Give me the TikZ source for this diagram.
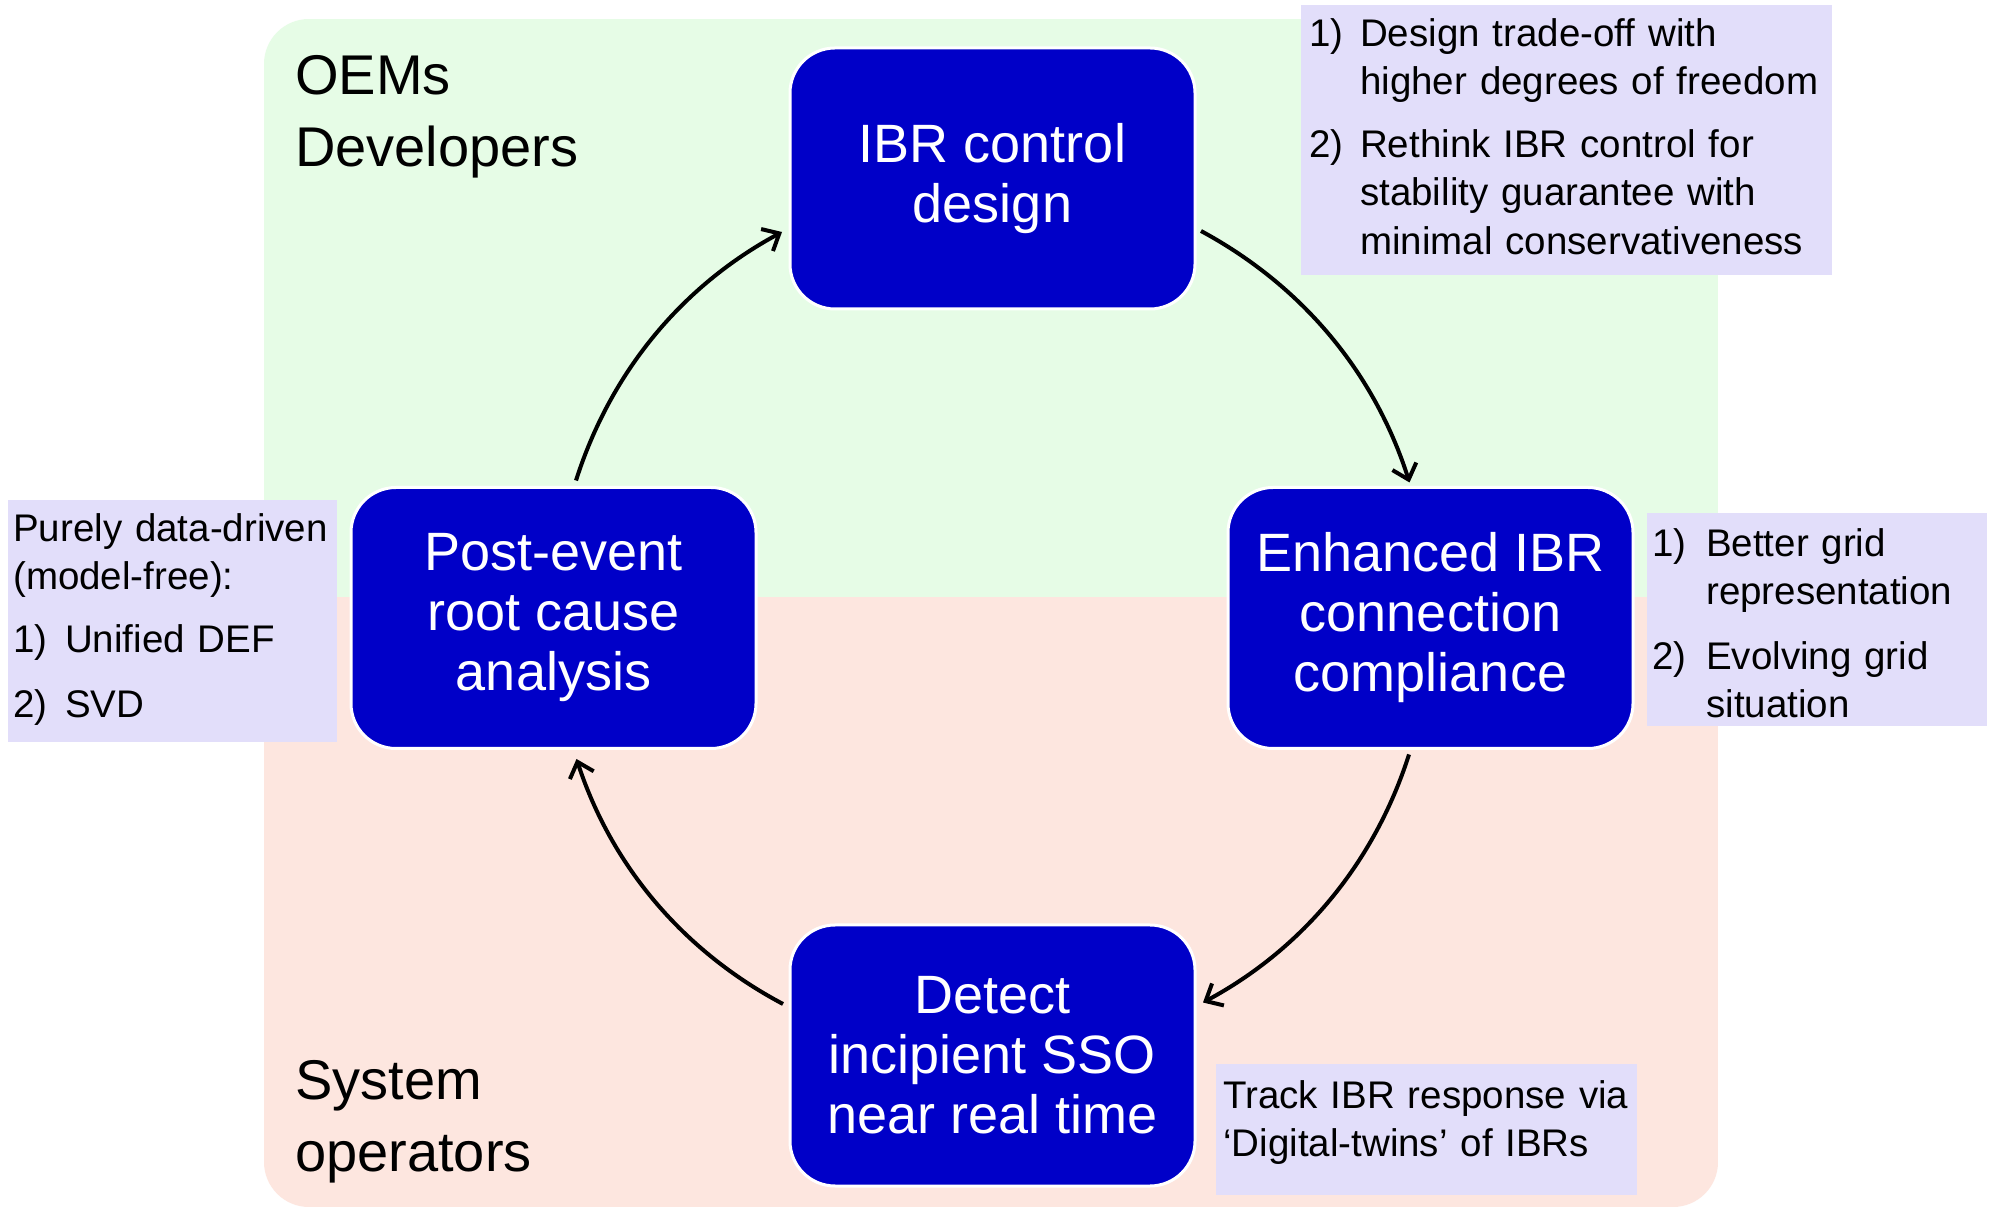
\documentclass[tikz,border=0pt]{standalone}
\usepackage{fontspec}
\setmainfont{Liberation Sans}
\usetikzlibrary{arrows.meta,calc}
\definecolor{bggreen}{RGB}{230,252,230}
\definecolor{bgpink}{RGB}{253,230,223}
\definecolor{notefill}{RGB}{226,222,250}
\definecolor{boxblue}{RGB}{0,0,200}
\begin{document}
\begin{tikzpicture}[x=1pt,y=1pt,
  stage/.style={draw=white, line width=3pt, fill=boxblue, rounded corners=45pt,
    minimum width=405pt, minimum height=261pt, text=white, align=center,
    font=\fontsize{54}{60}\selectfont, inner sep=0pt, outer sep=0pt},
  note/.style={fill=notefill, anchor=north west, inner ysep=0pt, align=left,
    font=\fontsize{38.5}{48.5}\selectfont},
  grp/.style={anchor=base west, align=left, text width=400pt,
    font=\fontsize{56}{72}\selectfont, inner sep=0pt},
  flow/.style={line width=4pt, -{Straight Barb[length=14pt,width=25pt]},
    bend left=22, looseness=0.9}]

\useasboundingbox (0,0) rectangle (1993,1207);
\fill[white] (0,0) rectangle (1993,1207);

% background zones
\begin{scope}
  \clip[rounded corners=45pt] (264,0) rectangle (1718,1188);
  \fill[bggreen] (264,610) rectangle (1718,1188);
  \fill[bgpink] (264,0) rectangle (1718,610);
\end{scope}

% group labels
\node[grp] (oem) at (295,1112) {OEMs\\Developers};
\node[grp] (sysop) at (295,108) {System\\operators};

% stages
\node[stage] (ibr)  at (992.5,1028.5) {IBR control\\design};
\node[stage] (post) at (553.5,589)    {Post-event\\root cause\\analysis};
\node[stage] (enh)  at (1430.5,589)   {Enhanced IBR\\connection\\compliance};
\node[stage] (det)  at (992.5,151.5)  {Detect\\incipient SSO\\near real time};

% cycle connectors
\draw[flow] ($(post.north)+(22.5,7)$) to ($(ibr.west)+(-8,-53.5)$);
\draw[flow] ($(ibr.east)+(6,-52.5)$) to ($(enh.north)+(-21,5)$);
\draw[flow] ($(enh.south)+(-21.5,-6)$) to ($(det.east)+(8,53)$);
\draw[flow] ($(det.west)+(-7,51.5)$) to ($(post.south)+(23,-10.5)$);

% notes
\node[note, inner xsep=8pt, text width=515pt, text height=41pt, text depth=229pt] (n1) at (1301,1202)
  {\makebox[51pt][l]{1)}Design trade-off with\\
   \hspace*{51pt}higher degrees of freedom\\[14pt]
   \makebox[51pt][l]{2)}Rethink IBR control for\\
   \hspace*{51pt}stability guarantee with\\
   \hspace*{51pt}minimal conservativeness};

\node[note, inner xsep=5pt, text width=319pt, text height=41pt, text depth=201pt] (n2) at (8,707)
  {Purely data-driven\\
   (model-free):\\[14pt]
   \makebox[52pt][l]{1)}Unified DEF\\[17pt]
   \makebox[52pt][l]{2)}SVD};

\node[note, inner xsep=5pt, text width=330pt, text height=43pt, text depth=170pt] (n3) at (1647,694)
  {\makebox[54pt][l]{1)}Better grid\\
   \hspace*{54pt}representation\\[16pt]
   \makebox[54pt][l]{2)}Evolving grid\\
   \hspace*{54pt}situation};

\node[note, inner xsep=7pt, text width=407pt, text height=44pt, text depth=87pt] (n4) at (1216,143)
  {Track IBR response via\\
   `Digital-twins' of IBRs};
\end{tikzpicture}
\end{document}
